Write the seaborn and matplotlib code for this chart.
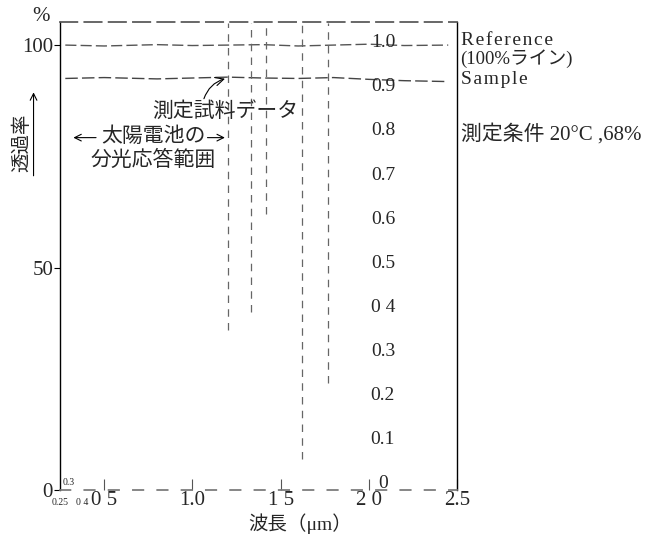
import numpy as np
import pandas as pd
import matplotlib
matplotlib.use("Agg")
import matplotlib.pyplot as plt
import seaborn as sns

# data
wavelength = [0.28, 0.5, 0.8, 1.0, 1.2, 1.4, 1.6, 1.8, 2.0, 2.2, 2.45]
reference = [100.0, 99.8, 100.1, 99.9, 100.0, 100.1, 99.8, 100.0, 100.2, 99.9, 100.0]
sample = [92.5, 92.7, 92.4, 92.6, 92.8, 92.6, 92.5, 92.7, 92.3, 92.0, 91.8]

band_wl = [1.2, 1.33, 1.42, 1.62, 1.77]
band_low = [36, 40, 62, 7, 24]

inner_scale = [0, 0.1, 0.2, 0.3, 0.4, 0.5, 0.6, 0.7, 0.8, 0.9, 1.0]
inner_labels = ["0", "0.1", "0.2", "0.3", "0 4", "0.5", "0.6", "0.7", "0.8", "0.9", "1.0"]

x_major = [0.5, 1.0, 1.5, 2.0, 2.5]
x_major_labels = ["0 5", "1.0", "1 5", "2 0", "2.5"]
x_minor = [0.25, 0.3, 0.4]
x_minor_labels = ["0.25", "0.3", "0 4"]
y_ticks = [0, 50, 100]

sns.set_theme(style="white")
plt.rcParams['font.family'] = ['Liberation Serif', 'Noto Sans CJK JP', 'DejaVu Serif']

fig = plt.figure(figsize=(6.53, 5.38), dpi=100)
ax = fig.add_axes([0.0919, 0.0892, 0.608, 0.870])

df = pd.DataFrame({"wl": wavelength, "ref": reference, "smp": sample})
sns.lineplot(data=df, x="wl", y="ref", ax=ax, color="#555555", lw=1.0, linestyle=(0, (8, 3)))
sns.lineplot(data=df, x="wl", y="smp", ax=ax, color="#444444", lw=1.0, linestyle=(0, (9, 3)))

for wl, low in zip(band_wl, band_low):
    ax.vlines(wl, low, 105, color="#666666", lw=0.9, linestyles=(0, (6, 5)))

ax.set_xlim(0.25, 2.5)
ax.set_ylim(0, 105.2)

# spines
ax.spines['left'].set_color("black")
ax.spines['left'].set_linewidth(1.0)
ax.spines['right'].set_color("black")
ax.spines['right'].set_linewidth(1.0)
ax.spines['top'].set_color("#555555")
ax.spines['top'].set_linestyle((0, (10, 4)))
ax.spines['bottom'].set_color("#777777")
ax.spines['bottom'].set_linestyle((0, (6, 8)))

ax.set_yticks(y_ticks)
ax.set_yticklabels(["0", "50", "100"], fontsize=15)
ax.tick_params(axis='y', direction='out', length=4, width=0.8, pad=1, color="black", left=True)
ax.set_xticks(x_major)
ax.set_xticklabels(x_major_labels, fontsize=15)
ax.tick_params(axis='x', direction='in', length=8, width=0.8, pad=1, color="#555555", bottom=True)
ax.set_xlabel("")
ax.set_ylabel("")

# small crowded labels at the short-wavelength end
ax.text(0.25, -1.8, x_minor_labels[0], fontsize=7, ha='center', va='top', clip_on=False)
ax.text(0.3, 0.6, x_minor_labels[1], fontsize=7, ha='center', va='bottom', clip_on=False)
ax.text(0.41, -1.8, x_minor_labels[2], fontsize=7, ha='right', va='top', clip_on=False)

# inner 0-1.0 scale, printed slightly above its gridline
for v, lab in zip(inner_scale, inner_labels):
    ax.text(2.08, v * 100 * 0.99 + 1.5, lab, fontsize=14, ha='center', va='center')

# outer labels
ax.text(0.14, 106.5, "%", fontsize=15, ha='center', va='center', clip_on=False)
ax.text(0.035, 78, "透過率", fontsize=14, rotation=90, ha='center', va='center', clip_on=False)
ax.annotate("", xy=(0.1, 90), xytext=(0.1, 70), xycoords='data', annotation_clip=False,
            arrowprops=dict(arrowstyle='->', lw=0.8, color="black"))
ax.text(1.61, -7.5, "波長（μm）", fontsize=14, ha='center', va='center', clip_on=False)

ts = "\u200a"
ax.text(2.52, 101, ts.join("Reference"), fontsize=14, ha='left', va='center', clip_on=False)
ax.text(2.52, 97, "(100%ライン)", fontsize=13.5, ha='left', va='center', clip_on=False)
ax.text(2.52, 92.2, ts.join("Sample"), fontsize=14, ha='left', va='center', clip_on=False)
ax.text(2.52, 80, "測定条件 20°C ,68%", fontsize=15, ha='left', va='center', clip_on=False)

# annotations inside
ax.annotate("測定試料データ", xy=(1.2, 92.6), xytext=(0.77, 85),
            fontsize=15, ha='left', va='center',
            arrowprops=dict(arrowstyle='->', lw=0.8, color="black",
                            connectionstyle="arc3,rad=-0.3", shrinkA=0,
                            relpos=(0.35, 1.0)))
ax.text(0.78, 79.2, "太陽電池の", fontsize=15, ha='center', va='center')
ax.text(0.78, 74.0, "分光応答範囲", fontsize=15, ha='center', va='center')
ax.annotate("", xy=(0.31, 79.2), xytext=(0.47, 79.2),
            arrowprops=dict(arrowstyle='->', lw=0.8, color="black"))
ax.annotate("", xy=(1.2, 79.2), xytext=(1.07, 79.2),
            arrowprops=dict(arrowstyle='->', lw=0.8, color="black"))

fig.savefig("out.png", dpi=100, facecolor="white")
